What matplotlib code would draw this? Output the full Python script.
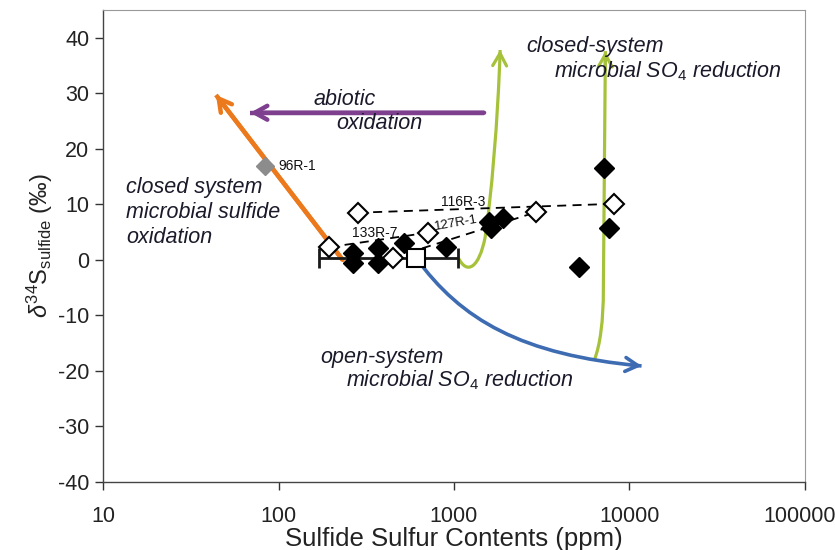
import matplotlib
matplotlib.use("Agg")
import matplotlib.pyplot as plt
import matplotlib.transforms as mtransforms
from matplotlib.path import Path
from matplotlib.patches import PathPatch

plt.rcParams['font.family'] = ['Liberation Sans', 'DejaVu Sans']
plt.rcParams['mathtext.fontset'] = 'custom'
plt.rcParams['mathtext.rm'] = 'Liberation Sans'
plt.rcParams['mathtext.it'] = 'Liberation Sans:italic'
plt.rcParams['axes.unicode_minus'] = False

# ---- data ----
filled_x = [265, 265, 368, 368, 518, 900, 1585, 1620, 1900, 7690, 5170, 7200]
filled_y = [1.3, -0.5, 2.2, -0.5, 3.1, 2.4, 6.9, 5.8, 7.6, 5.8, -1.2, 16.6]

open_x = [195, 283, 710, 448, 2940, 8200]
open_y = [2.3, 8.5, 4.9, 0.4, 8.6, 10.1]

gray_x = [84]
gray_y = [16.9]

square_x = [607]
square_y = [0.4]
errbar_x = [170, 1054]

line_116_x = [283, 8200]
line_116_y = [8.5, 10.1]
line_133_x = [195, 710]
line_133_y = [2.3, 4.9]
line_127_x = [448, 2940]
line_127_y = [0.4, 8.6]

orange_x = [232, 44]
orange_y = [0.0, 29.7]

purple_x = [1484, 69]
purple_y = [26.5, 26.5]

# curve vertices (cubic Bezier: start, ctrl, ctrl, end, ctrl, ctrl, end ...)
green1_x = [1054, 1186, 1390, 1503, 1625, 1782, 1832]
green1_y = [0.5, -2.9, -1.4, 4.0, 10.8, 25.2, 37.8]

green2_x = [6310, 6820, 7100, 7100, 7290]
green2_y = [-18.0, -15.3, -10.8, -5.4, 37.6]

blue_x = [607, 1097, 2415, 11720]
blue_y = [0.4, -10.8, -17.1, -19.1]

x_ticks = [10, 100, 1000, 10000, 100000]
x_tick_labels = ['10', '100', '1000', '10000', '100000']
y_ticks = [-40, -30, -20, -10, 0, 10, 20, 30, 40]

ORANGE = '#EC7A1C'
PURPLE = '#7D3F8E'
GREEN = '#A6C23A'
BLUE = '#3E6CB2'

fig = plt.figure(figsize=(8.35, 5.5), dpi=100)
ax = fig.add_axes([0.1234, 0.1236, 0.8406, 0.8582])
ax.set_xscale('log')
ax.set_xlim(10, 100000)
ax.set_ylim(-40, 45)

HEAD = '->,head_length=0.9,head_width=0.5'


def head(x0, y0, x1, y1, color, lw, frac=1.0):
    # arrow head at (x1, y1), pointing along the direction from (x0, y0)
    d0 = ax.transData.transform((x0, y0))
    d1 = ax.transData.transform((x1, y1))
    ds = d1 + (d0 - d1) * frac
    ax.annotate('', xy=(x1, y1), xycoords='data',
                xytext=tuple(ds), textcoords='figure pixels',
                arrowprops=dict(arrowstyle=HEAD, color=color, lw=lw,
                                shrinkA=0, shrinkB=0), zorder=2)


def straight_arrow(xs, ys, color, lw):
    ax.plot(xs, ys, color=color, lw=lw, solid_capstyle='butt', zorder=2)
    head(xs[-2], ys[-2], xs[-1], ys[-1], color, lw)


def curve_arrow(xs, ys, codes, color, lw):
    verts = list(zip(xs, ys))
    p = Path(verts, codes)
    ax.add_patch(PathPatch(p, fc='none', ec=color, lw=lw, capstyle='butt',
                           transform=ax.transData, zorder=2))
    head(xs[-2], ys[-2], xs[-1], ys[-1], color, lw, frac=0.08)


straight_arrow(orange_x, orange_y, ORANGE, 3.2)
straight_arrow(purple_x, purple_y, PURPLE, 3.2)
C4 = Path.CURVE4
curve_arrow(green1_x, green1_y, [Path.MOVETO, C4, C4, C4, C4, C4, C4], GREEN, 2.3)
curve_arrow(green2_x, green2_y, [Path.MOVETO, C4, C4, C4, Path.LINETO], GREEN, 2.3)
curve_arrow(blue_x, blue_y, [Path.MOVETO, C4, C4, C4], BLUE, 2.6)

# dashed tie lines
for lx, ly in [(line_116_x, line_116_y), (line_133_x, line_133_y), (line_127_x, line_127_y)]:
    ax.plot(lx, ly, color='black', lw=1.3, dashes=(5, 3.5), zorder=3)

# error bar
ax.errorbar(square_x, square_y,
            xerr=[[square_x[0] - errbar_x[0]], [errbar_x[1] - square_x[0]]],
            fmt='none', ecolor='#1a1a1a', elinewidth=2, capsize=7, capthick=2, zorder=3)

ax.plot(filled_x, filled_y, 'D', color='black', markersize=10, zorder=4)
ax.plot(open_x, open_y, 'D', mfc='white', mec='black', mew=1.5, markersize=10, zorder=4)
ax.plot(gray_x, gray_y, 'D', color='#8C8C8C', markersize=9, zorder=4)
ax.plot(square_x, square_y, 's', mfc='white', mec='black', mew=1.5, markersize=12.5, zorder=5)

# text
tf = dict(fontsize=15.5, style='italic', color='#1a1a2a', va='center', ha='left')
ax.text(2578, 38.4, 'closed-system', **tf)
ax.text(3727, 33.9, r'microbial SO$_{\mathit{4}}$ reduction', **tf)
ax.text(158, 28.8, 'abiotic', **tf)
ax.text(214, 24.5, 'oxidation', **tf)
ax.text(13.5, 13.0, 'closed system', **tf)
ax.text(13.5, 8.5, 'microbial sulfide', **tf)
ax.text(13.5, 4.0, 'oxidation', **tf)
ax.text(174, -17.5, 'open-system', **tf)
ax.text(241, -21.6, r'microbial SO$_{\mathit{4}}$ reduction', **tf)

lf = dict(fontsize=10, color='#111111', va='center', ha='left')
ax.text(100, 16.9, '96R-1', **lf)
ax.text(843, 10.4, '116R-3', **lf)
ax.text(262, 4.9, '133R-7', **lf)
ax.text(770, 6.0, '127R-1', rotation=10, rotation_mode='anchor', fontsize=9.5,
        color='#111111', va='center', ha='left')

ax.set_xticks(x_ticks)
ax.set_xticklabels(x_tick_labels)
ax.set_yticks(y_ticks)
ax.minorticks_off()
ax.tick_params(labelsize=15.5, length=6, width=1, colors='#333333', labelcolor='#222222')
ax.tick_params(axis='x', pad=11)
ax.tick_params(axis='y', pad=4)
last = ax.get_xticklabels()[-1]
last.set_transform(last.get_transform() + mtransforms.ScaledTranslation(-5 / 100, 0, fig.dpi_scale_trans))

ax.set_xlabel('Sulfide Sulfur Contents (ppm)', fontsize=18.5, color='#222222', labelpad=0)
ax.set_ylabel(r'$\delta^{34}$S$_{\mathrm{sulfide}}$ (‰)', fontsize=17, color='#222222', labelpad=2)

for s in ['left', 'bottom']:
    ax.spines[s].set_color('#444444')
    ax.spines[s].set_linewidth(1)
for s in ['top', 'right']:
    ax.spines[s].set_color('#999999')
    ax.spines[s].set_linewidth(0.8)

fig.savefig('out.png', dpi=100)
